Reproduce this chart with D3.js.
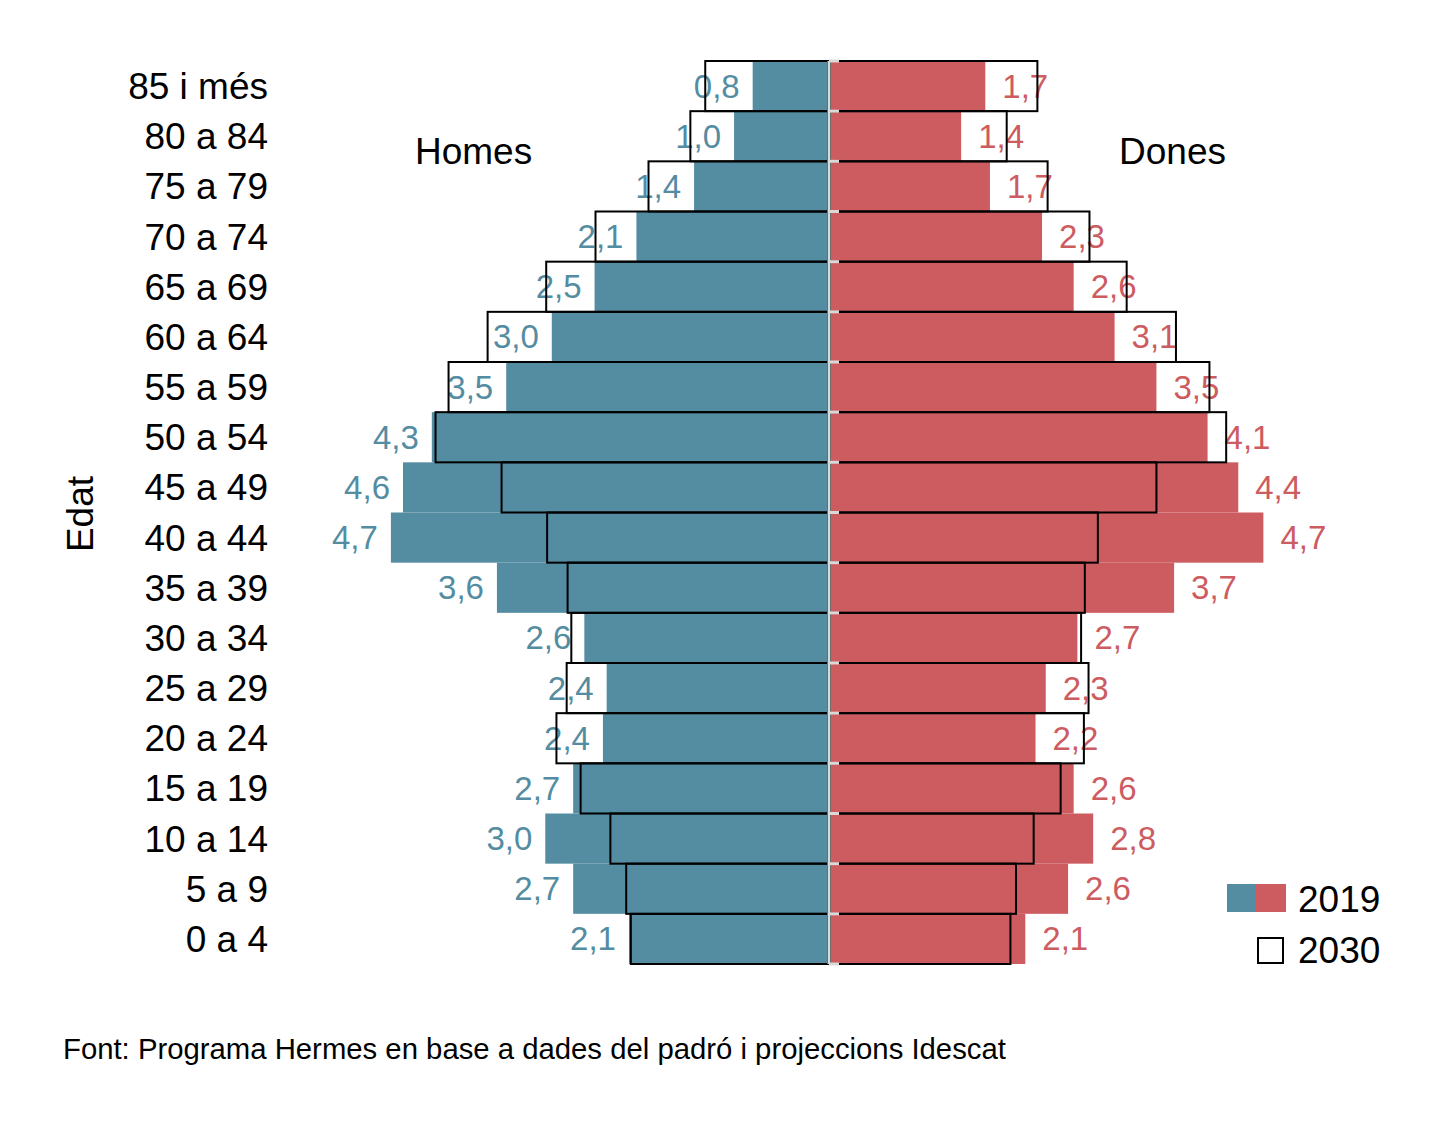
<!DOCTYPE html>
<html>
<head>
<meta charset="utf-8">
<script src="https://cdn.jsdelivr.net/npm/d3@7"></script>
<style>
  html, body { margin: 0; padding: 0; background: #fff; }
  svg { display: block; font-family: "Liberation Sans", Arial, Helvetica, sans-serif; }
</style>
</head>
<body>
<svg id="chart" width="1441" height="1122"></svg>
<script>
// age groups, top to bottom
var ages = ['85 i més', '80 a 84', '75 a 79', '70 a 74', '65 a 69', '60 a 64', '55 a 59',
  '50 a 54', '45 a 49', '40 a 44', '35 a 39', '30 a 34', '25 a 29', '20 a 24',
  '15 a 19', '10 a 14', '5 a 9', '0 a 4'];

// % of population, 2019
var homes2019 = [0.81, 1.01, 1.44, 2.06, 2.51, 2.97, 3.46, 4.26, 4.57, 4.70, 3.56, 2.62, 2.38, 2.42, 2.74, 3.04, 2.74, 2.14];
var dones2019 = [1.67, 1.41, 1.72, 2.28, 2.62, 3.06, 3.51, 4.06, 4.39, 4.66, 3.70, 2.66, 2.32, 2.21, 2.62, 2.83, 2.56, 2.10];

// % of population, 2030 projection
var homes2030 = [1.32, 1.48, 1.93, 2.50, 3.03, 3.66, 4.08, 4.22, 3.51, 3.02, 2.80, 2.76, 2.81, 2.92, 2.66, 2.34, 2.17, 2.12];
var dones2030 = [2.23, 1.90, 2.34, 2.79, 3.19, 3.72, 4.08, 4.26, 3.51, 2.88, 2.74, 2.70, 2.78, 2.73, 2.48, 2.19, 2.00, 1.94];

var legendYears = ['2019', '2030'];
var source = 'Font: Programa Hermes en base a dades del padró i projeccions Idescat';

var COLORS = { homes: '#548ca2', dones: '#cd5c61', axis: '#d9d9d9' };
var FONT = 37;

var svg = d3.select('#chart');
var cx = 829;

var y = d3.scaleBand().domain(ages).range([61, 964]).padding(0);
var xL = d3.scaleLinear().domain([0, 5]).range([cx - 1, cx - 1 - 465]);
var xR = d3.scaleLinear().domain([0, 5]).range([cx + 1, cx + 1 + 465]);

var locale = d3.formatLocale({ decimal: ',', thousands: '.', grouping: [3], currency: ['', '€'] });
var fmt = locale.format('.1f');

var rows = ages.map(function(age, i){
  return { age: age, h19: homes2019[i], d19: dones2019[i], h30: homes2030[i], d30: dones2030[i] };
});

var g = svg.append('g');

// 2019 filled bars
g.selectAll('.bar-h19').data(rows).enter().append('rect')
  .attr('class', 'bar-h19')
  .attr('x', function(d){ return xL(d.h19); })
  .attr('y', function(d){ return y(d.age); })
  .attr('width', function(d){ return xL(0) - xL(d.h19); })
  .attr('height', y.bandwidth())
  .attr('fill', COLORS.homes);

g.selectAll('.bar-d19').data(rows).enter().append('rect')
  .attr('class', 'bar-d19')
  .attr('x', xR(0))
  .attr('y', function(d){ return y(d.age); })
  .attr('width', function(d){ return xR(d.d19) - xR(0); })
  .attr('height', y.bandwidth())
  .attr('fill', COLORS.dones);

// 2019 value labels
g.selectAll('.lab-h').data(rows).enter().append('text')
  .attr('class', 'lab-h')
  .attr('x', function(d){ return xL(d.h19) - 13; })
  .attr('y', function(d){ return y(d.age) + y.bandwidth() / 2; })
  .attr('dy', '0.35em')
  .attr('text-anchor', 'end')
  .attr('font-size', 33)
  .attr('fill', COLORS.homes)
  .text(function(d){ return fmt(d.h19); });

g.selectAll('.lab-d').data(rows).enter().append('text')
  .attr('class', 'lab-d')
  .attr('x', function(d){ return xR(d.d19) + 17; })
  .attr('y', function(d){ return y(d.age) + y.bandwidth() / 2; })
  .attr('dy', '0.35em')
  .attr('text-anchor', 'start')
  .attr('font-size', 33)
  .attr('fill', COLORS.dones)
  .text(function(d){ return fmt(d.d19); });

// 2030 outlines
g.selectAll('.bar-h30').data(rows).enter().append('rect')
  .attr('class', 'bar-h30')
  .attr('x', function(d){ return xL(d.h30); })
  .attr('y', function(d){ return y(d.age); })
  .attr('width', function(d){ return xL(0) - xL(d.h30); })
  .attr('height', y.bandwidth())
  .attr('fill', 'none')
  .attr('stroke', '#000')
  .attr('stroke-width', 2);

g.selectAll('.bar-d30').data(rows).enter().append('rect')
  .attr('class', 'bar-d30')
  .attr('x', xR(0))
  .attr('y', function(d){ return y(d.age); })
  .attr('width', function(d){ return xR(d.d30) - xR(0); })
  .attr('height', y.bandwidth())
  .attr('fill', 'none')
  .attr('stroke', '#000')
  .attr('stroke-width', 2);

// centre axis with small ticks at the band edges
var edges = ages.map(function(a){ return y(a); }).concat([y.range()[1]]);
g.append('line')
  .attr('x1', cx).attr('x2', cx)
  .attr('y1', y.range()[0]).attr('y2', y.range()[1])
  .attr('stroke', COLORS.axis).attr('stroke-width', 3);
g.selectAll('.tick').data(edges).enter().append('line')
  .attr('class', 'tick')
  .attr('x1', cx).attr('x2', cx + 10)
  .attr('y1', function(d){ return d; }).attr('y2', function(d){ return d; })
  .attr('stroke', COLORS.axis).attr('stroke-width', 3);

// age labels
svg.append('g').selectAll('text').data(ages).enter().append('text')
  .attr('x', 268)
  .attr('y', function(d){ return y(d) + y.bandwidth() / 2; })
  .attr('dy', '0.35em')
  .attr('text-anchor', 'end')
  .attr('font-size', FONT)
  .attr('fill', '#000')
  .text(function(d){ return d; });

svg.append('text')
  .attr('transform', 'translate(93,514) rotate(-90)')
  .attr('text-anchor', 'middle')
  .attr('font-size', FONT)
  .text('Edat');

svg.append('text').attr('x', 415).attr('y', 164).attr('font-size', FONT).text('Homes');
svg.append('text').attr('x', 1119).attr('y', 164).attr('font-size', FONT).text('Dones');

// legend
var lg = svg.append('g');
lg.append('rect').attr('x', 1227).attr('y', 884).attr('width', 29).attr('height', 28).attr('fill', COLORS.homes);
lg.append('rect').attr('x', 1256).attr('y', 884).attr('width', 30).attr('height', 28).attr('fill', COLORS.dones);
lg.append('rect').attr('x', 1258).attr('y', 938).attr('width', 25).attr('height', 25)
  .attr('fill', '#fff').attr('stroke', '#000').attr('stroke-width', 2);
lg.selectAll('text').data(legendYears).enter().append('text')
  .attr('x', 1298)
  .attr('y', function(d, i){ return 912 + i * 51; })
  .attr('font-size', FONT)
  .text(function(d){ return d; });

svg.append('text')
  .attr('x', 63).attr('y', 1059)
  .attr('font-size', 29.3)
  .text(source);
</script>
</body>
</html>
